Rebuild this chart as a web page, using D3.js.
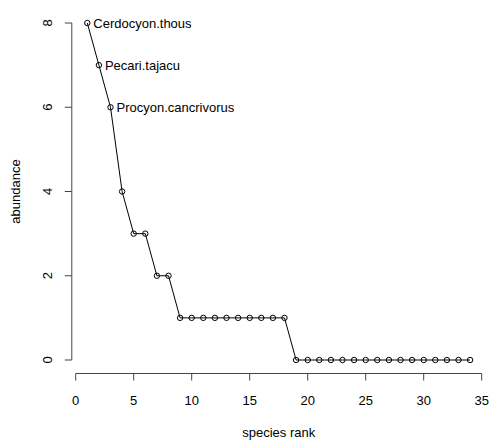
<!DOCTYPE html>
<html><head><meta charset="utf-8">
<script src="https://cdn.jsdelivr.net/npm/d3@7"></script>
<style>body{margin:0;background:#fff}svg{display:block}text{font-family:"Liberation Sans",Arial,sans-serif;fill:#000}</style>
</head><body>
<script>
const ranks = d3.range(1, 35);
const abundance = [8,7,6,4,3,3,2,2,1,1,1,1,1,1,1,1,1,1,0,0,0,0,0,0,0,0,0,0,0,0,0,0,0,0];
const labels = ["Cerdocyon.thous","Pecari.tajacu","Procyon.cancrivorus"];
const xTicks = [0,5,10,15,20,25,30,35];
const yTicks = [0,2,4,6,8];

const W = 491, H = 442;
const fs = 13;
const svg = d3.select("body").append("svg").attr("width", W).attr("height", H);
const x = d3.scaleLinear().domain([0, 35]).range([75.7, 481.7]);
const y = d3.scaleLinear().domain([0, 8]).range([360, 23]);
const axisY = 373.5, axisX = 71.8;
const axCol = "#444";

// x axis
const gx = svg.append("g");
gx.append("line").attr("x1", x(0)).attr("x2", x(35)).attr("y1", axisY).attr("y2", axisY).attr("stroke", axCol);
gx.selectAll("line.t").data(xTicks).join("line").attr("class","t")
  .attr("x1", d => x(d)).attr("x2", d => x(d)).attr("y1", axisY).attr("y2", axisY + 7).attr("stroke", axCol);
gx.selectAll("text").data(xTicks).join("text")
  .attr("x", d => x(d)).attr("y", 405).attr("text-anchor", "middle").attr("font-size", fs).text(d => d);

// y axis
const gy = svg.append("g");
gy.append("line").attr("x1", axisX).attr("x2", axisX).attr("y1", y(0)).attr("y2", y(8)).attr("stroke", axCol);
gy.selectAll("line.t").data(yTicks).join("line").attr("class","t")
  .attr("x1", axisX - 7).attr("x2", axisX).attr("y1", d => y(d)).attr("y2", d => y(d)).attr("stroke", axCol);
gy.selectAll("text").data(yTicks).join("text")
  .attr("transform", d => `translate(52,${y(d)}) rotate(-90)`).attr("text-anchor", "middle").attr("font-size", fs).text(d => d);

// axis titles
svg.append("text").attr("x", (x(0)+x(35))/2).attr("y", 437).attr("text-anchor","middle").attr("font-size", fs).text("species rank");
svg.append("text").attr("transform", `translate(20,${(y(0)+y(8))/2}) rotate(-90)`).attr("text-anchor","middle").attr("font-size", fs).text("abundance");

// line
const data = ranks.map((r, i) => ({r, v: abundance[i]}));
svg.append("path").datum(data).attr("fill","none").attr("stroke","#000").attr("stroke-width",1)
  .attr("d", d3.line().x(d => x(d.r)).y(d => y(d.v)));
svg.selectAll("circle").data(data).join("circle")
  .attr("cx", d => x(d.r)).attr("cy", d => y(d.v)).attr("r", 2.7)
  .attr("fill","none").attr("stroke","#000").attr("stroke-width",1);

// species labels
svg.selectAll("text.lab").data(labels).join("text").attr("class","lab")
  .attr("x", (d,i) => x(ranks[i]) + 6).attr("y", (d,i) => y(abundance[i]) + 4.5)
  .attr("font-size", fs).text(d => d);
</script>
</body></html>
